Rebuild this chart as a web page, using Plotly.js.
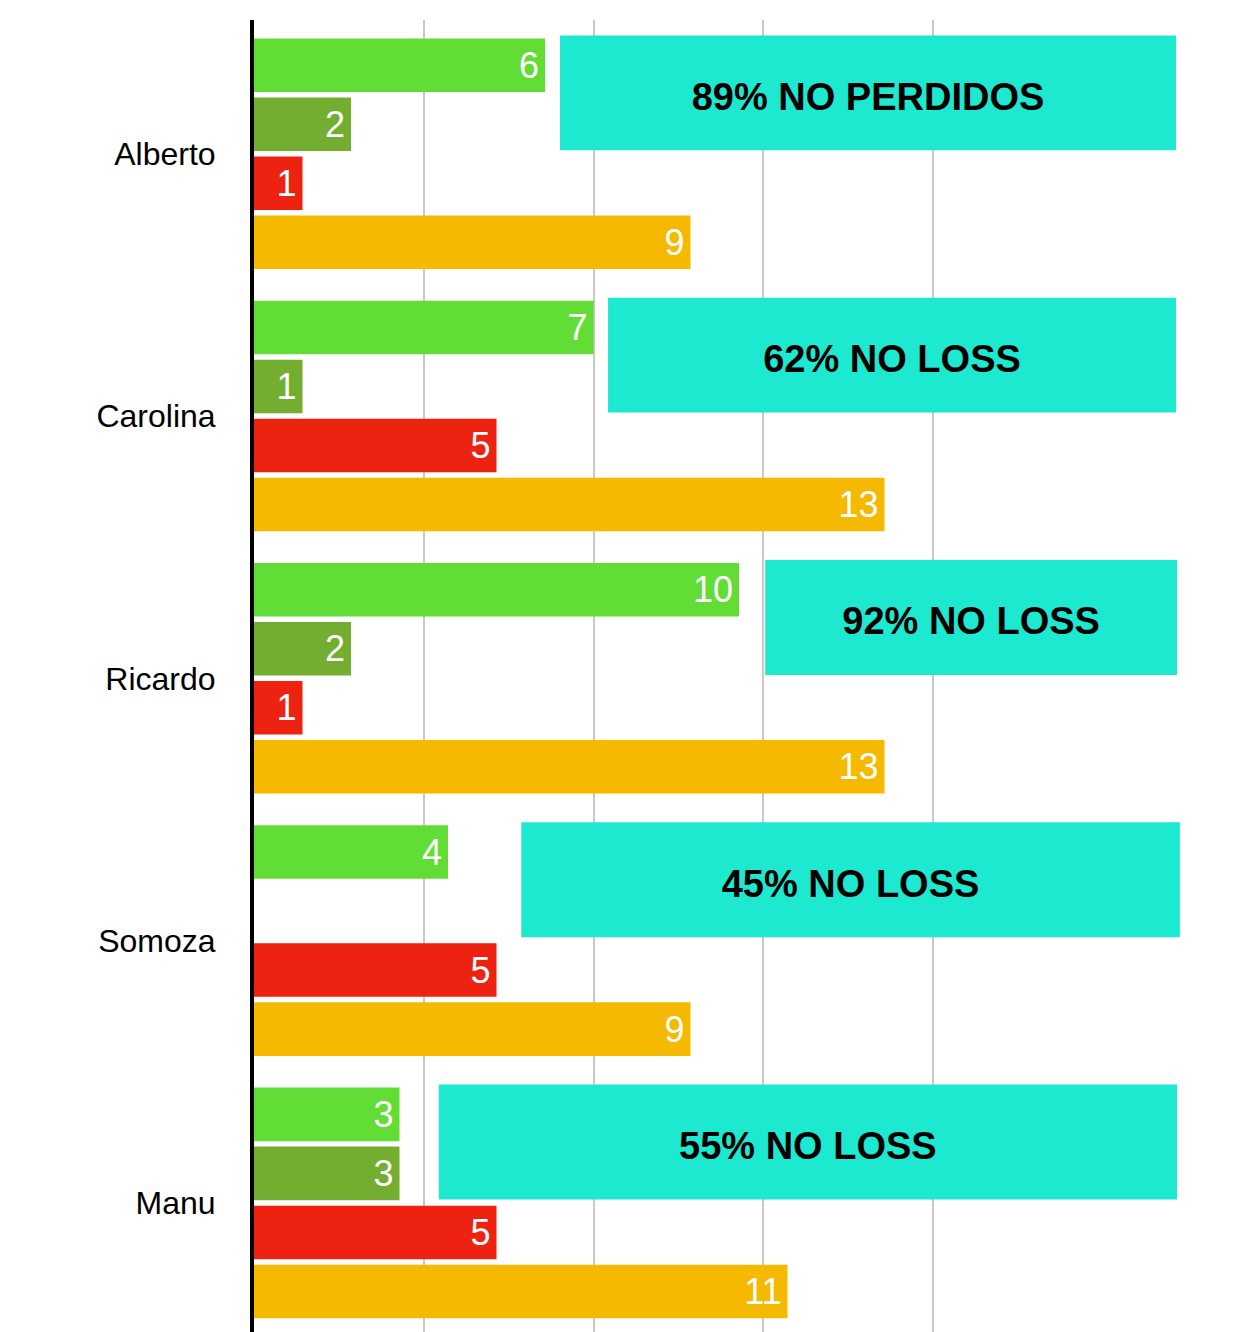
<!DOCTYPE html>
<html>
<head>
<meta charset="utf-8">
<script src="https://cdn.plot.ly/plotly-3.0.1.min.js"></script>
<style>
    html, body { margin: 0; padding: 0; background: #fff; }
    #results-diagram { width: 1258px; height: 1332px; }
</style>
</head>
<body>
<div id="results-diagram"></div>
<script>
// Data
const players = ['Alberto', 'Carolina', 'Ricardo', 'Somoza', 'Manu'];
const won = [6, 7, 10, 4, 3];
const drawn = [2, 1, 2, null, 3];
const lost = [1, 5, 1, 5, 5];
const played = [9, 13, 13, 9, 11];
const notes = ['89% NO PERDIDOS', '62% NO LOSS', '92% NO LOSS', '45% NO LOSS', '55% NO LOSS'];

const COLOR_WON = '#61DD36';
const COLOR_DRAWN = '#74AE31';
const COLOR_LOST = '#EE2210';
const COLOR_PLAYED = '#F5B900';
const COLOR_NOTE = '#1DE8D0';

/**
 * Create diagram with results per player
 */
function createResultsDiagram() {
    function barTrace(values, name, color) {
        return {
            type: 'bar',
            orientation: 'h',
            x: values,
            y: players,
            name: name,
            marker: { color: color },
            // hair space keeps the number a bit off the bar end
            text: values.map(v => v === null ? '' : String(v) + '\u200A'),
            textposition: 'inside',
            insidetextanchor: 'end',
            textangle: 0,
            constraintext: 'none',
            insidetextfont: { family: 'Liberation Sans, Arial, sans-serif', size: 36, color: '#fff' },
            hoverinfo: 'skip'
        }
    }

    let data = [
        barTrace(won, 'Ganados', COLOR_WON),
        barTrace(drawn, 'Empatados', COLOR_DRAWN),
        barTrace(lost, 'Perdidos', COLOR_LOST),
        barTrace(played, 'Jugados', COLOR_PLAYED)
    ];

    // Boxes with the percentage next to each player (left edge in x units)
    let noteLeft = [6.31, 7.30, 10.54, 5.51, 3.81];
    let noteRight = [19.01, 19.01, 19.03, 19.09, 19.03];
    let shapes = [];
    for(let i in players) {
        let idx = Number(i);
        shapes.push({
            type: 'rect',
            xref: 'x',
            yref: 'y',
            x0: noteLeft[i],
            x1: noteRight[i],
            y0: idx - 0.451,
            y1: idx - 0.013,
            fillcolor: COLOR_NOTE,
            line: { width: 0 },
            layer: 'above',
            label: {
                text: notes[i],
                textposition: 'middle center',
                font: { family: 'Liberation Sans, Arial, sans-serif', size: 38, color: '#000', weight: 'bold' }
            }
        })
    }

    // Layout of the chart
    let layout = {
        showlegend: false,
        barmode: 'group',
        bargap: 0.1,
        bargroupgap: 0.093,
        paper_bgcolor: '#fff',
        plot_bgcolor: '#fff',
        font: { family: 'Liberation Sans, Arial, sans-serif', color: '#000' },
        shapes: shapes,
        xaxis: {
            range: [0, 19.216],
            tickvals: [3.5, 7, 10.5, 14],
            showticklabels: false,
            showgrid: true,
            gridcolor: '#c8c8c8',
            gridwidth: 2,
            zeroline: false,
            showline: false,
            fixedrange: true
        },
        yaxis: {
            type: 'category',
            range: [4.4922, -0.5097],
            showgrid: false,
            zeroline: false,
            showline: true,
            linecolor: '#000',
            linewidth: 4,
            ticks: '',
            ticklabelstandoff: 28,
            tickfont: { size: 32, color: '#000' },
            fixedrange: true
        },
        margin: {
            l: 254,
            r: 72,
            t: 20,
            b: 0
        },
        width: 1258,
        height: 1332
    }

    // General chart configuration
    let config = {
        displayModeBar: false,
        staticPlot: true
    }

    let htmlElement = document.getElementById('results-diagram');
    htmlElement.innerHTML = '';
    Plotly.newPlot(htmlElement, data, layout, config);
}

createResultsDiagram();
</script>
</body>
</html>
